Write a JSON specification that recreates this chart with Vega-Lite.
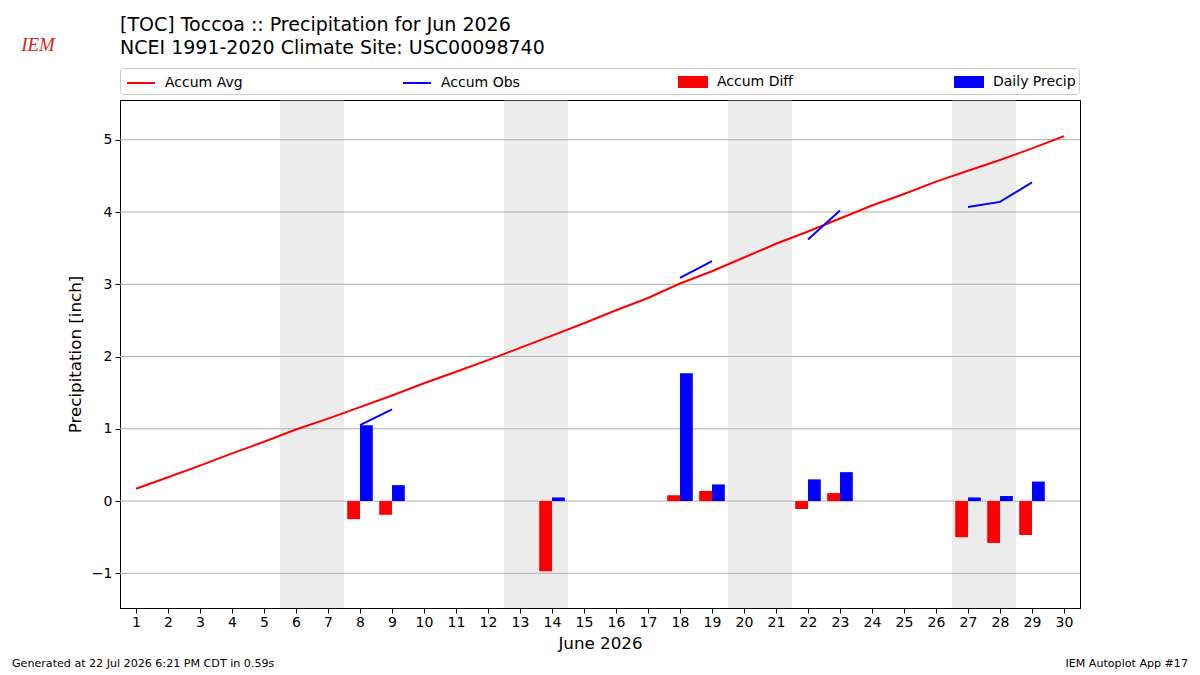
{
  "$schema": "https://vega.github.io/schema/vega-lite/v6.json",
  "autosize": {"type": "none"},
  "width": 960,
  "height": 508,
  "padding": {"left": 120, "top": 100, "right": 120, "bottom": 67},
  "background": "white",
  "title": {
    "text": ["[TOC] Toccoa :: Precipitation for Jun 2026", "NCEI 1991-2020 Climate Site: USC00098740"],
    "anchor": "start",
    "frame": "group",
    "fontSize": 19,
    "fontWeight": "normal",
    "font": "DejaVu Sans",
    "lineHeight": 23,
    "color": "black",
    "offset": -22
  },
  "config": {
    "font": "DejaVu Sans",
    "view": {"stroke": "black", "strokeWidth": 1},
    "axis": {
      "grid": false,
      "domainColor": "black",
      "tickColor": "black",
      "tickSize": 5,
      "labelFontSize": 14,
      "labelColor": "black",
      "labelFont": "DejaVu Sans",
      "labelOverlap": false,
      "titleFontSize": 16.7,
      "titleFontWeight": "normal",
      "titleColor": "black",
      "titleFont": "DejaVu Sans",
      "zindex": 1
    },
    "axisX": {"labelOverlap": false, "tickCount": 30},
    "axisQuantitative": {"labelOverlap": false},
    "legend": {
      "orient": "none",
      "legendX": 0,
      "legendY": -32,
      "direction": "horizontal",
      "columns": 4,
      "gridAlign": "all",
      "columnPadding": 151,
      "padding": 3,
      "symbolSize": 400,
      "symbolStrokeWidth": 2,
      "labelFontSize": 14,
      "labelFont": "DejaVu Sans",
      "labelColor": "black",
      "labelOffset": 20,
      "strokeColor": "#cccccc",
      "fillColor": "white",
      "cornerRadius": 3
    }
  },
  "datasets": {
    "days": [
      {"day": 1, "avg": 0.17, "obs": null, "diff": null, "precip": null, "run": null},
      {"day": 2, "avg": 0.33, "obs": null, "diff": null, "precip": null, "run": null},
      {"day": 3, "avg": 0.49, "obs": null, "diff": null, "precip": null, "run": null},
      {"day": 4, "avg": 0.66, "obs": null, "diff": null, "precip": null, "run": null},
      {"day": 5, "avg": 0.82, "obs": null, "diff": null, "precip": null, "run": null},
      {"day": 6, "avg": 0.99, "obs": null, "diff": null, "precip": null, "run": null},
      {"day": 7, "avg": 1.14, "obs": null, "diff": null, "precip": null, "run": null},
      {"day": 8, "avg": 1.30, "obs": 1.05, "diff": -0.25, "precip": 1.05, "run": 1},
      {"day": 9, "avg": 1.46, "obs": 1.27, "diff": -0.19, "precip": 0.22, "run": 1},
      {"day": 10, "avg": 1.63, "obs": null, "diff": null, "precip": null, "run": null},
      {"day": 11, "avg": 1.79, "obs": null, "diff": null, "precip": null, "run": null},
      {"day": 12, "avg": 1.95, "obs": null, "diff": null, "precip": null, "run": null},
      {"day": 13, "avg": 2.12, "obs": null, "diff": null, "precip": null, "run": null},
      {"day": 14, "avg": 2.29, "obs": 1.32, "diff": -0.97, "precip": 0.05, "run": 2},
      {"day": 15, "avg": 2.46, "obs": null, "diff": null, "precip": null, "run": null},
      {"day": 16, "avg": 2.64, "obs": null, "diff": null, "precip": null, "run": null},
      {"day": 17, "avg": 2.81, "obs": null, "diff": null, "precip": null, "run": null},
      {"day": 18, "avg": 3.01, "obs": 3.09, "diff": 0.08, "precip": 1.77, "run": 3},
      {"day": 19, "avg": 3.18, "obs": 3.32, "diff": 0.14, "precip": 0.23, "run": 3},
      {"day": 20, "avg": 3.37, "obs": null, "diff": null, "precip": null, "run": null},
      {"day": 21, "avg": 3.56, "obs": null, "diff": null, "precip": null, "run": null},
      {"day": 22, "avg": 3.73, "obs": 3.62, "diff": -0.11, "precip": 0.30, "run": 4},
      {"day": 23, "avg": 3.91, "obs": 4.02, "diff": 0.11, "precip": 0.40, "run": 4},
      {"day": 24, "avg": 4.09, "obs": null, "diff": null, "precip": null, "run": null},
      {"day": 25, "avg": 4.25, "obs": null, "diff": null, "precip": null, "run": null},
      {"day": 26, "avg": 4.42, "obs": null, "diff": null, "precip": null, "run": null},
      {"day": 27, "avg": 4.57, "obs": 4.07, "diff": -0.50, "precip": 0.05, "run": 5},
      {"day": 28, "avg": 4.72, "obs": 4.14, "diff": -0.58, "precip": 0.07, "run": 5},
      {"day": 29, "avg": 4.88, "obs": 4.41, "diff": -0.47, "precip": 0.27, "run": 5},
      {"day": 30, "avg": 5.05, "obs": null, "diff": null, "precip": null, "run": null}
    ],
    "weekends": [
      {"start": 5.5, "end": 7.5},
      {"start": 12.5, "end": 14.5},
      {"start": 19.5, "end": 21.5},
      {"start": 26.5, "end": 28.5}
    ],
    "gridlines": [
      {"level": -1}, {"level": 0}, {"level": 1}, {"level": 2}, {"level": 3}, {"level": 4}, {"level": 5}
    ],
    "notes": [
      {"note": "Generated at 22 Jul 2026 6:21 PM CDT in 0.59s"}
    ],
    "credits": [
      {"note": "IEM Autoplot App #17"}
    ],
    "logo": [
      {"note": "IEM"}
    ]
  },
  "resolve": {"scale": {"color": "shared"}},
  "layer": [
    {
      "data": {"name": "weekends"},
      "mark": {"type": "rect", "color": "#ececec"},
      "encoding": {
        "x": {
          "field": "start", "type": "quantitative",
          "scale": {"domain": [0.5, 30.5], "nice": false, "zero": false, "padding": 0},
          "axis": {
            "values": [1, 2, 3, 4, 5, 6, 7, 8, 9, 10, 11, 12, 13, 14, 15, 16, 17, 18, 19, 20, 21, 22, 23, 24, 25, 26, 27, 28, 29, 30],
            "format": "d",
            "labelOverlap": false,
            "labelFlush": false,
            "labelBound": false,
            "labelPadding": 2,
            "title": "June 2026",
            "titlePadding": 6
          }
        },
        "x2": {"field": "end"},
        "y": {"datum": 5.54},
        "y2": {"datum": -1.48}
      }
    },
    {
      "data": {"name": "gridlines"},
      "mark": {"type": "rule", "color": "#b0b0b0", "strokeWidth": 1},
      "encoding": {
        "y": {
          "field": "level", "type": "quantitative",
          "scale": {"domain": [-1.48, 5.55], "nice": false, "zero": false, "padding": 0},
          "axis": {
            "values": [-1, 0, 1, 2, 3, 4, 5],
            "labelExpr": "datum.value < 0 ? '\u2212' + format(-datum.value, 'd') : format(datum.value, 'd')",
            "labelPadding": 3,
            "title": "Precipitation [inch]",
            "titlePadding": 7
          }
        }
      }
    },
    {
      "data": {"name": "days"},
      "mark": {"type": "bar", "width": 12.8, "xOffset": -6.4},
      "encoding": {
        "x": {
          "field": "day", "type": "quantitative",
          "axis": {
            "values": [1, 2, 3, 4, 5, 6, 7, 8, 9, 10, 11, 12, 13, 14, 15, 16, 17, 18, 19, 20, 21, 22, 23, 24, 25, 26, 27, 28, 29, 30],
            "format": "d",
            "labelOverlap": false,
            "labelFlush": false,
            "labelBound": false,
            "labelPadding": 2,
            "title": "June 2026",
            "titlePadding": 6
          }
        },
        "y": {"field": "diff", "type": "quantitative"},
        "y2": {"datum": 0},
        "color": {
          "datum": "Accum Diff",
          "scale": {
            "domain": ["Accum Avg", "Accum Obs", "Accum Diff", "Daily Precip"],
            "range": ["#ff0000", "#0000ff", "#ff0000", "#0000ff"]
          },
          "legend": {
            "title": null,
            "encode": {
              "symbols": {
                "update": {
                  "shape": {"signal": "indexof(['Accum Avg', 'Accum Obs'], datum.value) >= 0 ? 'M-0.7,0H2.1' : 'M-0.7,-0.5H2.1V0.5H-0.7Z'"},
                  "fill": {"signal": "indexof(['Accum Avg', 'Accum Obs'], datum.value) >= 0 ? 'transparent' : scale('color', datum.value)"},
                  "stroke": {"signal": "indexof(['Accum Avg', 'Accum Obs'], datum.value) >= 0 ? scale('color', datum.value) : 'transparent'"},
                  "strokeWidth": {"value": 2},
                  "opacity": {"value": 1}
                }
              }
            }
          }
        }
      }
    },
    {
      "data": {"name": "days"},
      "mark": {"type": "bar", "width": 12.8, "xOffset": 6.4},
      "encoding": {
        "x": {"field": "day", "type": "quantitative"},
        "y": {"field": "precip", "type": "quantitative"},
        "y2": {"datum": 0},
        "color": {"datum": "Daily Precip"}
      }
    },
    {
      "data": {"name": "days"},
      "mark": {"type": "line", "strokeWidth": 2},
      "encoding": {
        "x": {"field": "day", "type": "quantitative"},
        "y": {"field": "avg", "type": "quantitative"},
        "color": {"datum": "Accum Avg"}
      }
    },
    {
      "data": {"name": "days"},
      "transform": [{"filter": "datum.obs != null"}],
      "mark": {"type": "line", "strokeWidth": 2},
      "encoding": {
        "x": {"field": "day", "type": "quantitative"},
        "y": {"field": "obs", "type": "quantitative"},
        "detail": {"field": "run", "type": "nominal"},
        "color": {"datum": "Accum Obs"}
      }
    },
    {
      "data": {"name": "notes"},
      "mark": {"type": "text", "x": -108, "y": 564, "align": "left", "baseline": "middle", "fontSize": 11.1, "color": "black"},
      "encoding": {"text": {"field": "note"}}
    },
    {
      "data": {"name": "credits"},
      "mark": {"type": "text", "x": 1068, "y": 564, "align": "right", "baseline": "middle", "fontSize": 11.1, "color": "black"},
      "encoding": {"text": {"field": "note"}}
    },
    {
      "data": {"name": "logo"},
      "mark": {"type": "text", "x": -82, "y": -55, "align": "center", "baseline": "middle", "fontSize": 19, "font": "Liberation Serif", "fontStyle": "italic", "color": "#dd2222"},
      "encoding": {"text": {"field": "note"}}
    }
  ]
}
